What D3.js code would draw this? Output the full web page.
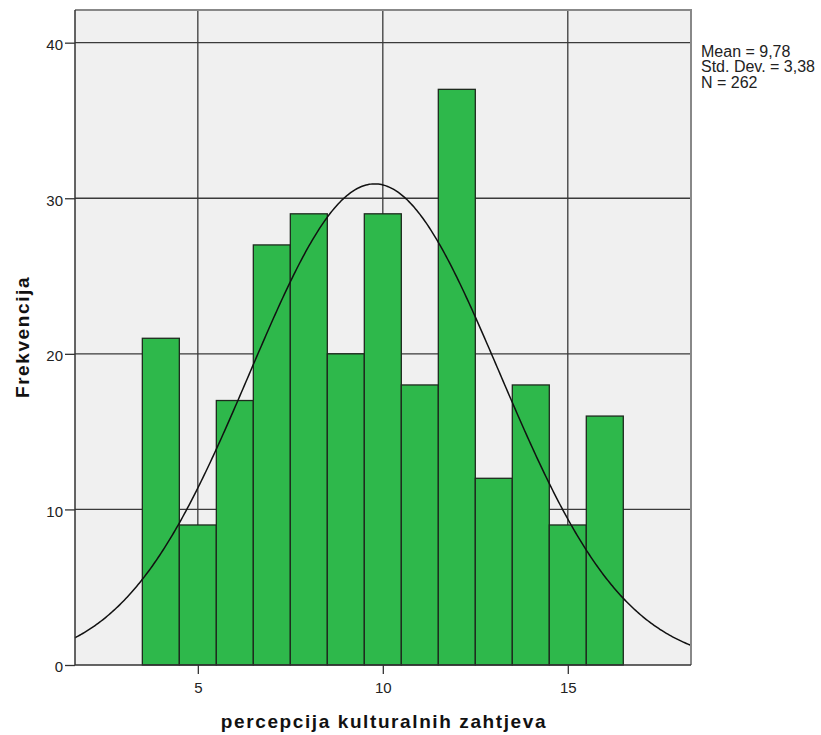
<!DOCTYPE html>
<html><head><meta charset="utf-8">
<script src="https://cdn.jsdelivr.net/npm/d3@7"></script>
<style>body{margin:0;background:#fff;}svg{display:block;font-family:"Liberation Sans",Arial,sans-serif;}</style>
</head><body><svg id="c" width="821" height="735"></svg>
<script>
const binCenters = [4,5,6,7,8,9,10,11,12,13,14,15,16];
const counts = [21,9,17,27,29,20,29,18,37,12,18,9,16];
const xTicks = [5,10,15];
const yTicks = [0,10,20,30,40];
const statsLines = ["Mean = 9,78","Std. Dev. = 3,38","N = 262"];
const meanVal = 9.78, sdVal = 3.38, nVal = 262, binW = 1;

const svg = d3.select("#c");
const L=75, R=691, T=10, B=665;
const x = d3.scaleLinear().domain([1.68,18.33]).range([L,R]);
const y = d3.scaleLinear().domain([0,42.1]).range([B,T]);

svg.append("rect").attr("x",L).attr("y",T).attr("width",R-L).attr("height",B-T).attr("fill","#f0f0f0");
// grid
svg.append("g").selectAll("line").data(yTicks.filter(d=>d>0)).join("line")
 .attr("x1",L).attr("x2",R).attr("y1",d=>y(d)).attr("y2",d=>y(d)).attr("stroke","#3a3a3a").attr("stroke-width",1.3);
svg.append("g").selectAll("line").data(xTicks).join("line")
 .attr("y1",T).attr("y2",B).attr("x1",d=>x(d)).attr("x2",d=>x(d)).attr("stroke","#3a3a3a").attr("stroke-width",1.3);
// bars
svg.append("g").selectAll("rect").data(binCenters).join("rect")
 .attr("x",(d)=>x(d-binW/2)).attr("width",(d)=>x(d+binW/2)-x(d-binW/2))
 .attr("y",(d,i)=>y(counts[i])).attr("height",(d,i)=>B-y(counts[i]))
 .attr("fill","#2eb84b").attr("stroke","#1e2a1e").attr("stroke-width",1.3);
// normal curve
const pts = d3.range(0,401).map(i=>{const v=1.68+(18.33-1.68)*i/400; return [v, nVal*binW*Math.exp(-0.5*((v-meanVal)/sdVal)**2)/(sdVal*Math.sqrt(2*Math.PI))];});
svg.append("path").attr("d",d3.line().x(d=>x(d[0])).y(d=>y(d[1]))(pts)).attr("fill","none").attr("stroke","#111").attr("stroke-width",1.5);
// frame
svg.append("path").attr("d",`M${L},${T}H${R}V${B}`).attr("fill","none").attr("stroke","#888").attr("stroke-width",2);
svg.append("path").attr("d",`M${L},${T}V${B}H${R}`).attr("fill","none").attr("stroke","#333").attr("stroke-width",1.5);
// axes
const ya = svg.append("g").attr("transform",`translate(${L},0)`).call(d3.axisLeft(y).tickValues(yTicks).tickSize(10).tickPadding(2).tickFormat(d3.format("d")));
ya.select(".domain").remove();
ya.selectAll("line").attr("stroke","#333").attr("stroke-width",1.3);
ya.selectAll("text").attr("font-size",15).attr("dy","0.45em").attr("fill","#222").attr("font-family","Liberation Sans, Arial, sans-serif");
const xa = svg.append("g").attr("transform",`translate(0,${B})`).call(d3.axisBottom(x).tickValues(xTicks).tickSize(9).tickPadding(8).tickFormat(d3.format("d")));
xa.select(".domain").remove();
xa.selectAll("line").attr("stroke","#333").attr("stroke-width",1.3);
xa.selectAll("text").attr("font-size",15).attr("fill","#222").attr("font-family","Liberation Sans, Arial, sans-serif");
// titles
svg.append("text").attr("x",384).attr("y",728).attr("text-anchor","middle").attr("font-size",19).attr("letter-spacing",1.6).attr("font-weight","bold").attr("fill","#111").text("percepcija kulturalnih zahtjeva");
svg.append("text").attr("transform","translate(29,337) rotate(-90)").attr("text-anchor","middle").attr("font-size",19).attr("letter-spacing",1.6).attr("font-weight","bold").attr("fill","#111").text("Frekvencija");
// stats
svg.append("g").selectAll("text").data(statsLines).join("text")
 .attr("x",701).attr("y",(d,i)=>56.5+i*15.5).attr("font-size",16).attr("fill","#222").text(d=>d);
</script></body></html>
